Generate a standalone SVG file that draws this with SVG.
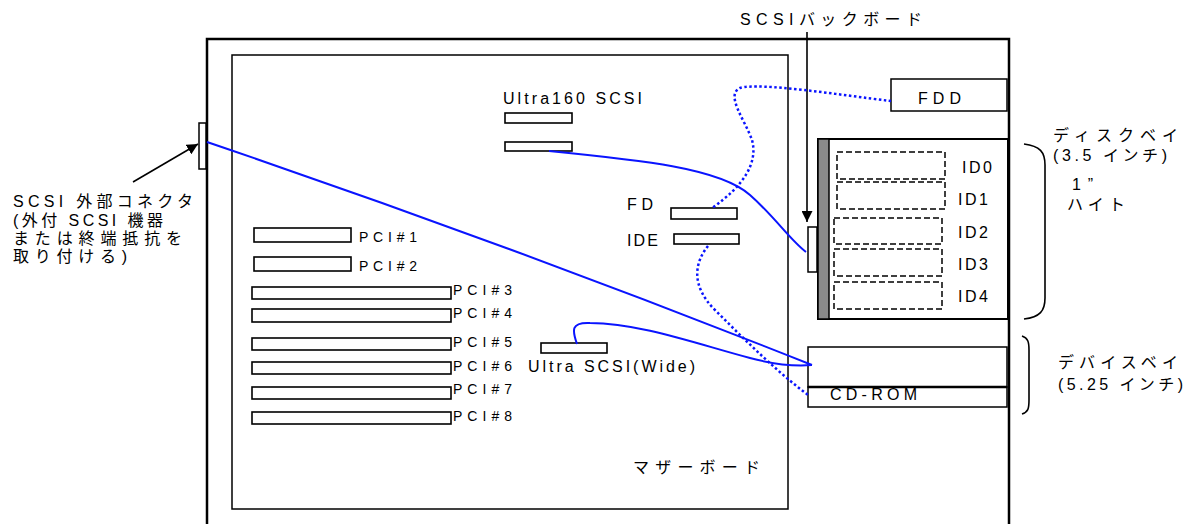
<svg xmlns="http://www.w3.org/2000/svg" width="1188" height="524" viewBox="0 0 1188 524">
<style>
.t{font-family:"Liberation Sans","Noto Sans CJK JP",sans-serif;font-size:16px;fill:#000}
.s{font-size:14px}
.box{fill:#fff;stroke:#000;stroke-width:1.5}
.slot{fill:#fff;stroke:#000;stroke-width:1.6}
.drv{fill:none;stroke:#000;stroke-width:1.5;stroke-dasharray:6 3}
.blue{fill:none;stroke:#0a14ff;stroke-width:2}
.dot{fill:none;stroke:#0a14ff;stroke-width:2.5;stroke-dasharray:2.5 2.5}
.ln{fill:none;stroke:#000;stroke-width:1.6}
</style>
<defs>
<marker id="ah" markerUnits="userSpaceOnUse" markerWidth="12" markerHeight="11" refX="11" refY="5.5" orient="auto">
<path d="M0,0 L11,5.5 L0,11 z" fill="#000"/>
</marker>
</defs>
<rect width="1188" height="524" fill="#fff"/>

<g id="chassis">
<path d="M207,530 V39 H1009 V530" fill="none" stroke="#000" stroke-width="2.5"/>
</g>

<g id="motherboard">
<rect x="232" y="55" width="556" height="454" class="box"/>
<text class="t" x="633" y="473" textLength="127" lengthAdjust="spacing">マザーボード</text>
</g>

<g id="ext-connector">
<rect x="199" y="123" width="7" height="46" class="box"/>
<text class="t" x="13" y="207" textLength="180" lengthAdjust="spacing">SCSI 外部コネクタ</text>
<text class="t" x="13" y="226" textLength="150" lengthAdjust="spacing">(外付 SCSI 機器</text>
<text class="t" x="13" y="244" textLength="169" lengthAdjust="spacing">または終端抵抗を</text>
<text class="t" x="13" y="262" textLength="114" lengthAdjust="spacing">取り付ける)</text>
</g>

<g id="ultra160">
<rect x="505" y="113" width="67" height="10" class="slot"/>
<rect x="505" y="142" width="67" height="9" class="slot"/>
<text class="t" x="503" y="104" textLength="139" lengthAdjust="spacing">Ultra160 SCSI</text>
</g>

<g id="fd-conn">
<rect x="671" y="208" width="66" height="11" class="slot"/>
<text class="t" x="627" y="210" textLength="26" lengthAdjust="spacing">FD</text>
</g>
<g id="ide-conn">
<rect x="674" y="234" width="65" height="10" class="slot"/>
<text class="t" x="627" y="246" textLength="31" lengthAdjust="spacing">IDE</text>
</g>

<g id="ultra-wide">
<rect x="541" y="343" width="66" height="10" class="slot"/>
<text class="t" x="528" y="372" textLength="167" lengthAdjust="spacing">Ultra SCSI(Wide)</text>
</g>

<g id="pci">
<rect x="254" y="228" width="97" height="14" class="slot"/>
<text class="t s" x="359" y="242" textLength="58" lengthAdjust="spacing">PCI#1</text>
<rect x="254" y="257" width="97" height="14" class="slot"/>
<text class="t s" x="359" y="271" textLength="58" lengthAdjust="spacing">PCI#2</text>
<rect x="252" y="287" width="199" height="12" class="slot"/>
<text class="t s" x="453" y="295" textLength="59" lengthAdjust="spacing">PCI#3</text>
<rect x="252" y="309" width="199" height="13" class="slot"/>
<text class="t s" x="453" y="318" textLength="59" lengthAdjust="spacing">PCI#4</text>
<rect x="252" y="338" width="199" height="12" class="slot"/>
<text class="t s" x="453" y="347" textLength="59" lengthAdjust="spacing">PCI#5</text>
<rect x="252" y="362" width="199" height="12" class="slot"/>
<text class="t s" x="453" y="371" textLength="59" lengthAdjust="spacing">PCI#6</text>
<rect x="252" y="387" width="199" height="12" class="slot"/>
<text class="t s" x="453" y="394" textLength="59" lengthAdjust="spacing">PCI#7</text>
<rect x="252" y="412" width="199" height="12" class="slot"/>
<text class="t s" x="453" y="421" textLength="59" lengthAdjust="spacing">PCI#8</text>
</g>

<g id="fdd">
<rect x="891" y="79" width="116" height="32" class="box"/>
<text class="t" x="918" y="104" textLength="43" lengthAdjust="spacing">FDD</text>
</g>

<g id="disk-bay">
<rect x="818" y="139" width="190" height="180" fill="#fff" stroke="#000" stroke-width="2"/>
<rect x="818" y="139" width="11" height="180" fill="#8a8a8a" stroke="#000" stroke-width="1.5"/>
<rect x="837" y="152" width="108" height="27" class="drv"/>
<rect x="837" y="182" width="108" height="27" class="drv"/>
<rect x="834" y="218" width="108" height="26" class="drv"/>
<rect x="834" y="249" width="108" height="27" class="drv"/>
<rect x="834" y="282" width="108" height="27" class="drv"/>
<text class="t" x="962" y="173" textLength="30" lengthAdjust="spacing">ID0</text>
<text class="t" x="958" y="205" textLength="30" lengthAdjust="spacing">ID1</text>
<text class="t" x="958" y="238" textLength="30" lengthAdjust="spacing">ID2</text>
<text class="t" x="958" y="270" textLength="30" lengthAdjust="spacing">ID3</text>
<text class="t" x="958" y="302" textLength="30" lengthAdjust="spacing">ID4</text>
<path d="M1024,144 C1040,146 1045,152 1045,165 V298 C1045,311 1040,317 1024,319" class="ln"/>
<text class="t" x="1053" y="141" textLength="125" lengthAdjust="spacing">ディスクベイ</text>
<text class="t" x="1053" y="161" textLength="114" lengthAdjust="spacing">(3.5 インチ)</text>
<text class="t" x="1072" y="190" textLength="21" lengthAdjust="spacing">1 ”</text>
<text class="t" x="1067" y="210" textLength="58" lengthAdjust="spacing">ハイト</text>
</g>

<g id="backboard">
<rect x="808" y="227" width="9" height="45" class="box"/>
<text class="t" x="740" y="25" textLength="182" lengthAdjust="spacing">SCSIバックボード</text>
</g>

<g id="device-bay">
<rect x="808" y="347" width="199" height="40" class="box"/>
<rect x="808" y="387" width="199" height="20" class="box"/>
<line x1="808" y1="387" x2="1007" y2="387" stroke="#000" stroke-width="2.5"/>
<text class="t" x="830" y="400" textLength="87" lengthAdjust="spacing">CD-ROM</text>
<path d="M1022,336 C1028,338 1029,342 1029,350 V400 C1029,409 1028,412 1022,414" class="ln"/>
<text class="t" x="1058" y="368" textLength="120" lengthAdjust="spacing">デバイスベイ</text>
<text class="t" x="1058" y="390" textLength="125" lengthAdjust="spacing">(5.25 インチ)</text>
</g>

<g id="connectors">
<line x1="133" y1="182" x2="198" y2="144" class="ln" marker-end="url(#ah)"/>
<line x1="807" y1="32" x2="807" y2="222" class="ln" marker-end="url(#ah)"/>
<path d="M207,142 Q510,245 812,365" class="blue"/>
<path d="M549,151 C640,160 720,168 750,195 C775,217 790,240 806,252" class="blue"/>
<path d="M577,344 C572,330 571,322 590,323 C640,323 700,345 750,358 C780,366 800,366 812,365" class="blue"/>
<path d="M891,101 C840,95 760,82 740,88 C725,95 745,120 752,140 C758,162 745,185 712,208" class="dot"/>
<path d="M708,246 C695,262 690,285 715,310 C745,340 775,370 808,395" class="dot"/>
</g>
</svg>
